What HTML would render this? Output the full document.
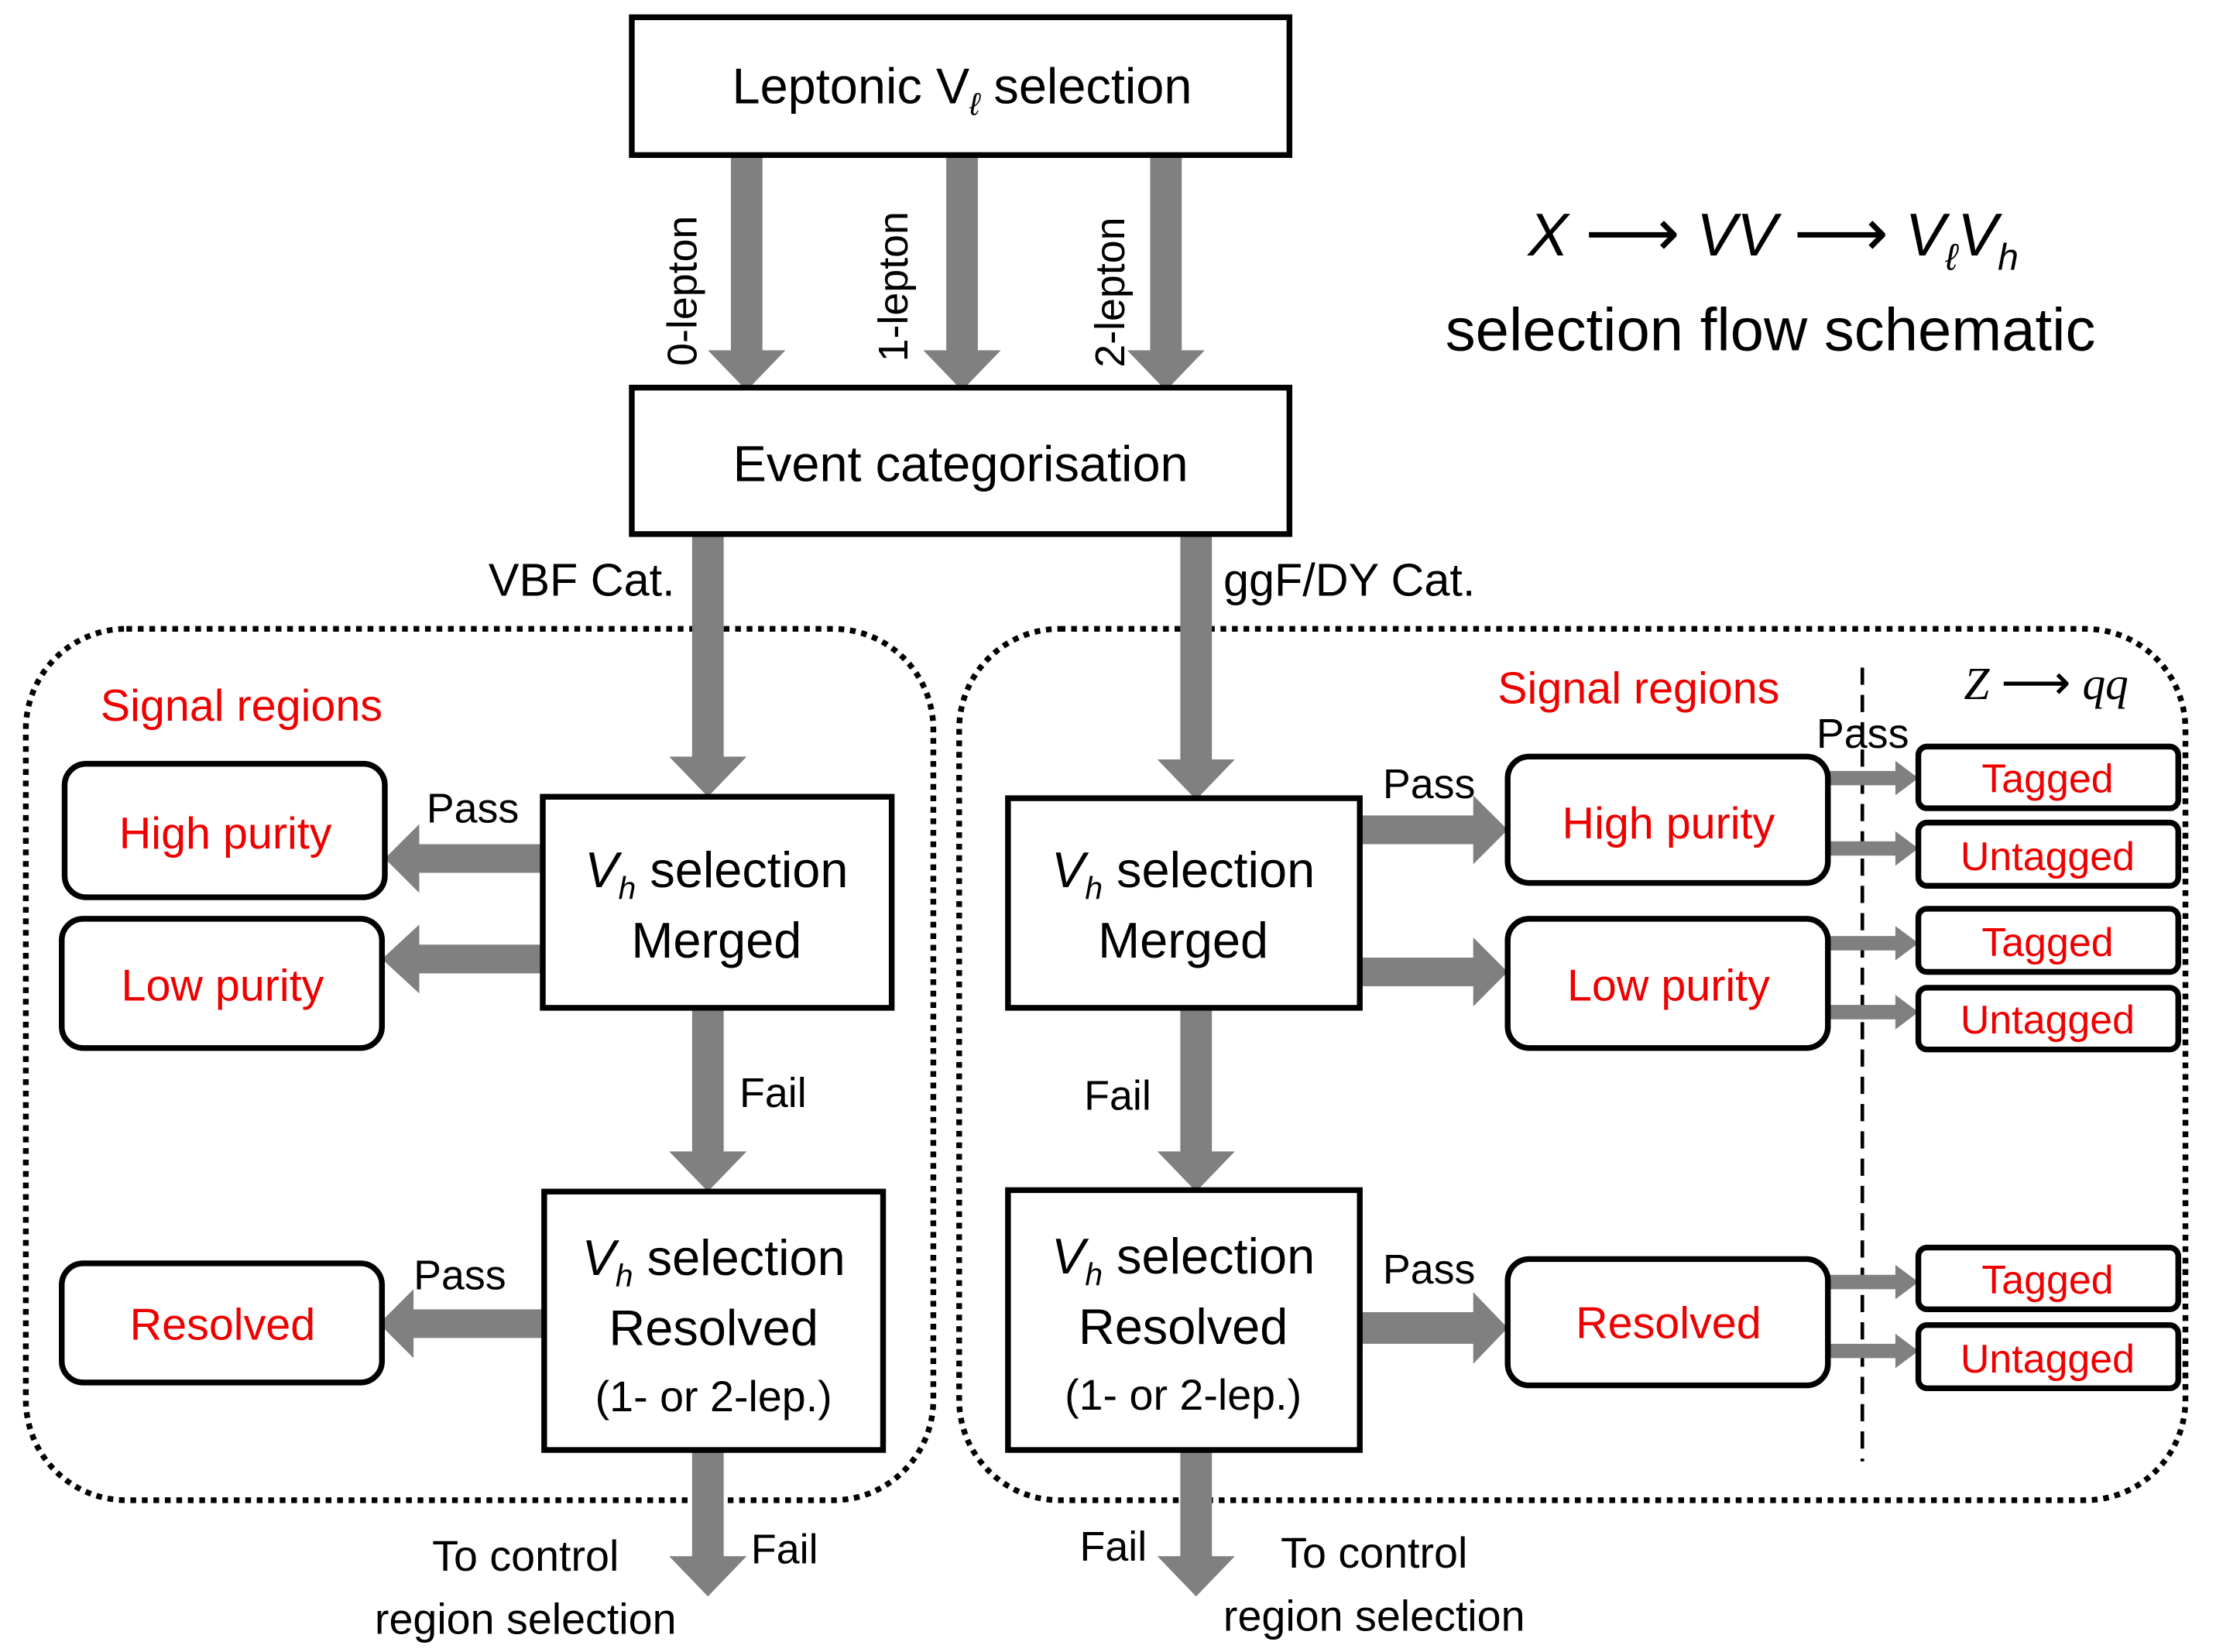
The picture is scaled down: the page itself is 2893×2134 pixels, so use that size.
<!DOCTYPE html>
<html><head><meta charset="utf-8">
<style>html,body{margin:0;padding:0;background:#fff}svg{display:block}</style></head>
<body>
<svg width="2893" height="2134" viewBox="0 0 1560 1150.7" xmlns="http://www.w3.org/2000/svg" font-family="Liberation Sans, DejaVu Sans, sans-serif">
<rect width="1560" height="1151" fill="#fff"/>
<rect x="18" y="438" width="632" height="607" rx="70" fill="none" stroke="#000" stroke-width="4" stroke-dasharray="4,4"/>
<rect x="668" y="438" width="854" height="607" rx="70" fill="none" stroke="#000" stroke-width="4" stroke-dasharray="4,4"/>
<line x1="1297" y1="465" x2="1297" y2="1018" stroke="#000" stroke-width="2.5" stroke-dasharray="12,7"/>
<g fill="#808080">
<polygon points="509,108 531,108 531,244 547,244 520,272 493,244 509,244"/>
<polygon points="659,108 681,108 681,244 697,244 670,272 643,244 659,244"/>
<polygon points="801,108 823,108 823,244 839,244 812,272 785,244 801,244"/>
<polygon points="482,372 504,372 504,527 520,527 493,555 466,527 482,527"/>
<polygon points="822,372 844,372 844,529 860,529 833,557 806,529 822,529"/>
<polygon points="482,702 504,702 504,802 520,802 493,830 466,802 482,802"/>
<polygon points="482,1010 504,1010 504,1084 520,1084 493,1112 466,1084 482,1084"/>
<polygon points="822,702 844,702 844,802 860,802 833,830 806,802 822,802"/>
<polygon points="822,1010 844,1010 844,1084 860,1084 833,1112 806,1084 822,1084"/>
<polygon points="378,588 378,608 292,608 292,622 268,598 292,574 292,588"/>
<polygon points="378,658 378,678 292,678 292,692 266,668 292,644 292,658"/>
<polygon points="384,912 384,932 288,932 288,946 264,922 288,898 288,912"/>
<polygon points="947,568 947,588 1026,588 1026,602 1050,578 1026,554 1026,568"/>
<polygon points="947,667 947,687 1026,687 1026,701 1050,677 1026,653 1026,667"/>
<polygon points="947,914 947,936 1026,936 1026,950 1050,925 1026,900 1026,914"/>
<polygon points="1273,537 1320,537 1320,530 1336,542 1320,554 1320,547 1273,547"/>
<polygon points="1273,586 1320,586 1320,579 1336,591 1320,603 1320,596 1273,596"/>
<polygon points="1273,652 1320,652 1320,645 1336,657 1320,669 1320,662 1273,662"/>
<polygon points="1273,700 1320,700 1320,693 1336,705 1320,717 1320,710 1273,710"/>
<polygon points="1273,888 1320,888 1320,881 1336,893 1320,905 1320,898 1273,898"/>
<polygon points="1273,936 1320,936 1320,929 1336,941 1320,953 1320,946 1273,946"/>
</g>
<g fill="#fff" stroke="#000" stroke-width="4">
<rect x="440" y="12" width="458" height="96"/>
<rect x="440" y="270" width="458" height="102"/>
<rect x="378" y="555" width="243" height="147"/>
<rect x="379" y="830" width="236" height="180"/>
<rect x="702" y="556" width="245" height="146"/>
<rect x="702" y="829" width="245" height="181"/>
</g>
<g fill="#fff" stroke="#000" stroke-width="4">
<rect x="45" y="532" width="223" height="93" rx="15"/>
<rect x="43" y="640" width="223" height="90" rx="15"/>
<rect x="43" y="880" width="223" height="83" rx="15"/>
<rect x="1050" y="527" width="223" height="88" rx="15"/>
<rect x="1050" y="640" width="223" height="90" rx="15"/>
<rect x="1050" y="877" width="223" height="88" rx="15"/>
<rect x="1336" y="520" width="181" height="43" rx="6"/>
<rect x="1336" y="573" width="181" height="44" rx="6"/>
<rect x="1336" y="633" width="181" height="44" rx="6"/>
<rect x="1336" y="688" width="181" height="43" rx="6"/>
<rect x="1336" y="869" width="181" height="43" rx="6"/>
<rect x="1336" y="923" width="181" height="44" rx="6"/>
</g>
<g font-size="35" text-anchor="middle" fill="#000">
<text x="670" y="72">Leptonic V<tspan font-style="italic" font-size="22" dy="8">ℓ</tspan><tspan dy="-8">  selection</tspan></text>
<text x="669" y="335">Event categorisation</text>
<text x="499" y="618"><tspan font-style="italic">V</tspan><tspan font-style="italic" font-size="22" dy="8">h</tspan><tspan dy="-8"> selection</tspan></text>
<text x="499" y="667">Merged</text>
<text x="497" y="888"><tspan font-style="italic">V</tspan><tspan font-style="italic" font-size="22" dy="8">h</tspan><tspan dy="-8"> selection</tspan></text>
<text x="497" y="937">Resolved</text>
<text x="497" y="983" font-size="30">(1- or 2-lep.)</text>
<text x="824" y="618"><tspan font-style="italic">V</tspan><tspan font-style="italic" font-size="22" dy="8">h</tspan><tspan dy="-8"> selection</tspan></text>
<text x="824" y="667">Merged</text>
<text x="824" y="887"><tspan font-style="italic">V</tspan><tspan font-style="italic" font-size="22" dy="8">h</tspan><tspan dy="-8"> selection</tspan></text>
<text x="824" y="936">Resolved</text>
<text x="824" y="982" font-size="30">(1- or 2-lep.)</text>
</g>
<g font-size="31" text-anchor="middle" fill="#ee0000">
<text x="157" y="591">High purity</text>
<text x="155" y="697">Low purity</text>
<text x="155" y="933">Resolved</text>
<text x="1162" y="584">High purity</text>
<text x="1162" y="697">Low purity</text>
<text x="1162" y="932">Resolved</text>
</g>
<g font-size="28" text-anchor="middle" fill="#ee0000">
<text x="1426" y="552">Tagged</text>
<text x="1426" y="606">Untagged</text>
<text x="1426" y="666">Tagged</text>
<text x="1426" y="720">Untagged</text>
<text x="1426" y="901">Tagged</text>
<text x="1426" y="956">Untagged</text>
</g>
<g font-size="31" fill="#ee0000">
<text x="70" y="502">Signal regions</text>
<text x="1043" y="490">Signal regions</text>
</g>
<g font-size="29" fill="#000">
<text transform="translate(485,255) rotate(-90)">0-lepton</text>
<text transform="translate(632,252) rotate(-90)">1-lepton</text>
<text transform="translate(783,256) rotate(-90)">2-lepton</text>
<text x="470" y="415" text-anchor="end" font-size="32">VBF Cat.</text>
<text x="852" y="415" font-size="32">ggF/DY Cat.</text>
<text x="297" y="573">Pass</text>
<text x="288" y="898">Pass</text>
<text x="515" y="771">Fail</text>
<text x="523" y="1089">Fail</text>
<text x="366" y="1094" text-anchor="middle" font-size="30">To control</text>
<text x="366" y="1138" text-anchor="middle" font-size="30">region selection</text>
<text x="963" y="556">Pass</text>
<text x="1265" y="521">Pass</text>
<text x="963" y="894">Pass</text>
<text x="755" y="773">Fail</text>
<text x="752" y="1087">Fail</text>
<text x="957" y="1092" text-anchor="middle" font-size="30">To control</text>
<text x="957" y="1136" text-anchor="middle" font-size="30">region selection</text>
</g>
<text x="1235" y="178" text-anchor="middle" font-size="42" font-style="italic">X <tspan font-style="normal" font-size="46" font-family="DejaVu Sans, sans-serif">⟶</tspan> VV <tspan font-style="normal" font-size="46" font-family="DejaVu Sans, sans-serif">⟶</tspan> V<tspan font-size="26" dy="10">ℓ</tspan><tspan dy="-10">V</tspan><tspan font-size="26" dy="10">h</tspan></text>
<text x="1233" y="244" text-anchor="middle" font-size="42">selection flow schematic</text>
<text x="1425" y="487" text-anchor="middle" font-size="32" font-style="italic" font-family="Liberation Serif, serif">Z <tspan font-style="normal" font-size="34" font-family="DejaVu Sans, sans-serif">⟶</tspan> qq</text>
</svg>
</body></html>
